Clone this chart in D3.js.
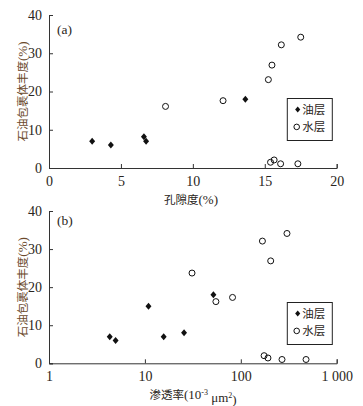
<!DOCTYPE html>
<html><head><meta charset="utf-8">
<script src="https://cdn.jsdelivr.net/npm/d3@7"></script>
<style>
body{margin:0;background:#fff;}
svg{display:block;}
</style></head>
<body>
<svg id="c" width="363" height="406"></svg>
<script>
// Panel (a): porosity vs abundance
const oilPorosity = [3.0, 4.3, 6.6, 6.75, 13.65];
const oilAbundA   = [7.0, 6.0, 8.2, 7.0, 18.0];
const waterPorosity = [8.1, 12.1, 15.25, 15.5, 16.15, 17.5, 15.4, 15.65, 16.1, 17.3];
const waterAbundA   = [16.1, 17.6, 23.1, 26.9, 32.2, 34.2, 1.5, 2.1, 1.1, 1.1];
// Panel (b): permeability vs abundance
const oilPerm    = [4.3, 4.95, 10.9, 15.7, 25.6, 51.8];
const oilAbundB  = [7.0, 6.0, 15.0, 7.0, 8.0, 18.0];
const waterPerm   = [31, 55, 82, 168, 303, 205, 175, 192, 269, 479];
const waterAbundB = [23.7, 16.2, 17.3, 32.1, 34.1, 26.9, 2.0, 1.4, 1.0, 1.0];

const yTicks = [0, 10, 20, 30, 40];
const xTicksA = [0, 5, 10, 15, 20];
const xTicksB = [1, 10, 100, 1000];
const xTickLabelsB = ["1", "10", "100", "1 000"];
const legendLabels = ["油层", "水层"];
const yTitle = "石油包裹体丰度";
const xTitleA = "孔隙度";

const svg = d3.select("#c");
const serif = "'Liberation Serif','Times New Roman',serif";
const cjk = "'Noto Sans CJK SC','Liberation Serif',serif";
const ink = "#2a2520";
const titleCol = "#6b4a2c";

function diamond(g, x, y, s) {
  g.append("path")
    .attr("d", `M${x},${y - s}L${x + s * 0.85},${y}L${x},${y + s}L${x - s * 0.85},${y}Z`)
    .attr("fill", "#111");
}

function panel(opts) {
  const {x, y} = opts;
  const g = svg.append("g");
  const ax = d3.axisBottom(x).tickSize(-4).tickPadding(8);
  if (opts.xTicks) ax.tickValues(opts.xTicks);
  if (opts.xFmt) ax.tickFormat(opts.xFmt);
  const gx = g.append("g").attr("transform", `translate(0,${y.range()[0]})`).call(ax);
  const ay = d3.axisLeft(y).tickValues(yTicks).tickSize(-4).tickPadding(7);
  const gy = g.append("g").attr("transform", `translate(${x.range()[0]},0)`).call(ay);
  [gx, gy].forEach(a => {
    a.select(".domain").attr("stroke", "#333").attr("stroke-width", 1);
    a.selectAll(".tick line").attr("stroke", "#333");
    a.selectAll(".tick text").attr("font-family", serif).attr("font-size", 14).attr("fill", ink);
  });
  gx.selectAll(".tick text").attr("dy", "0.68em");
  g.append("text").attr("x", 57).attr("y", opts.labelY).text(opts.label)
    .attr("font-family", serif).attr("font-size", 13.5).attr("fill", ink);
  const ym = (y.range()[0] + y.range()[1]) / 2;
  const yt = g.append("text").attr("transform", `translate(27,${ym}) rotate(-90)`)
    .attr("text-anchor", "middle").attr("fill", titleCol);
  yt.append("tspan").attr("font-family", cjk).attr("font-size", 11.5).text(yTitle);
  yt.append("tspan").attr("font-family", serif).attr("font-size", 13).text("(%)");
  opts.water.forEach(([a, b]) => {
    g.append("circle").attr("cx", x(a)).attr("cy", y(b)).attr("r", 3)
      .attr("fill", "none").attr("stroke", "#111").attr("stroke-width", 1);
  });
  opts.oil.forEach(([a, b]) => diamond(g, x(a), y(b), 3.5));
  const lx = 287.3, ly = opts.legY;
  g.append("rect").attr("x", lx).attr("y", ly).attr("width", 45).attr("height", 42)
    .attr("fill", "#fff").attr("stroke", "#222").attr("stroke-width", 1);
  diamond(g, lx + 10.4, ly + 11, 3);
  g.append("circle").attr("cx", lx + 9.4).attr("cy", ly + 28.4).attr("r", 2.8)
    .attr("fill", "none").attr("stroke", "#111");
  legendLabels.forEach((t, i) => {
    g.append("text").attr("x", lx + 15).attr("y", ly + 11 + i * 17.4).attr("dy", "0.36em")
      .attr("font-family", cjk).attr("font-size", 11.5).attr("fill", ink).text(t);
  });
}

const xA = d3.scaleLinear().domain([0, 20]).range([49, 336.7]);
const yA = d3.scaleLinear().domain([0, 40]).range([168, 15]);
panel({
  x: xA, y: yA, xTicks: xTicksA, label: "(a)", labelY: 34, legY: 98.5,
  oil: oilPorosity.map((v, i) => [v, oilAbundA[i]]),
  water: waterPorosity.map((v, i) => [v, waterAbundA[i]])
});
const xtA = svg.append("text").attr("x", 191).attr("y", 198).attr("dy", "0.36em").attr("text-anchor", "middle")
  .attr("fill", ink);
xtA.append("tspan").attr("font-family", cjk).attr("font-size", 11.5).text(xTitleA);
xtA.append("tspan").attr("font-family", serif).attr("font-size", 13).text("(%)");

const xB = d3.scaleLog().domain([1, 1000]).range([49, 336.7]);
const yB = d3.scaleLinear().domain([0, 40]).range([363.3, 211]);
panel({
  x: xB, y: yB, xTicks: xTicksB, xFmt: (d) => xTickLabelsB[xTicksB.indexOf(d)],
  label: "(b)", labelY: 224.5, legY: 302.5,
  oil: oilPerm.map((v, i) => [v, oilAbundB[i]]),
  water: waterPerm.map((v, i) => [v, waterAbundB[i]])
});
const xtB = svg.append("text").attr("x", 193).attr("y", 395).attr("dy", "0.36em").attr("text-anchor", "middle")
  .attr("fill", ink).attr("font-size", 11.5);
xtB.append("tspan").attr("font-family", cjk).text("渗透率");
xtB.append("tspan").attr("font-family", serif).attr("font-size", 13).text("(10");
xtB.append("tspan").attr("font-family", serif).attr("font-size", 8).attr("dy", "-0.5em").text("-3");
xtB.append("tspan").attr("font-family", serif).attr("font-size", 13).attr("dy", "0.5em").text(" μm");
xtB.append("tspan").attr("font-family", serif).attr("font-size", 8).attr("dy", "-0.5em").text("2");
xtB.append("tspan").attr("font-family", serif).attr("font-size", 13).attr("dy", "0.5em").text(")");
</script>
</body></html>
